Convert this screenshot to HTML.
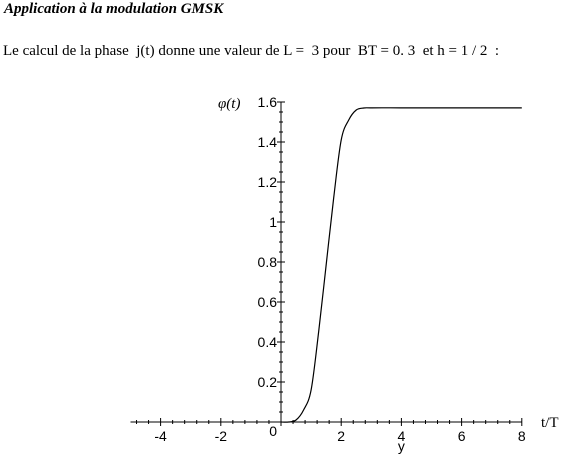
<!DOCTYPE html>
<html><head><meta charset="utf-8"><style>
body{margin:0;background:#fff;width:581px;height:470px;overflow:hidden;font-family:"Liberation Serif",serif}
#title{position:absolute;left:4px;top:1px;font-size:15px;font-weight:bold;font-style:italic}
#desc{position:absolute;left:3px;top:43px;font-size:15px;white-space:pre}
svg{position:absolute;left:0;top:0}
svg text{font-family:"Liberation Sans",sans-serif;font-size:14px;fill:#000}
</style></head><body>
<div id="title">Application à la modulation GMSK</div>
<div id="desc">Le calcul de la phase  j(t) donne une valeur de L =  3 pour  BT = 0. 3  et h = 1 / 2  :</div>
<svg id="chart" width="581" height="470"></svg>
<script>
const tVals=[0,0.25,0.5,0.75,1,1.25,1.5,1.75,2,2.25,2.5,2.75,3,4,5,6,7,8];
const phiVals=[0,0.0,0.01,0.06,0.16,0.45,0.785,1.12,1.41,1.51,1.56,1.57,1.5708,1.5708,1.5708,1.5708,1.5708,1.5708];
const xTickLabels=[-4,-2,0,2,4,6,8];
const yTickLabels=[0.2,0.4,0.6,0.8,1,1.2,1.4,1.6];
const NS="http://www.w3.org/2000/svg";
const svg=document.getElementById('chart');
const X=v=>281+v*30.1, Y=v=>422-v*200;
function el(t,a){const e=document.createElementNS(NS,t);for(const k in a)e.setAttribute(k,a[k]);svg.appendChild(e);return e;}
let e;
e=el('line',{x1:X(-5),y1:422,x2:X(8),y2:422,stroke:'#000'});


e=el('line',{x1:281,y1:422,x2:281,y2:Y(1.6),stroke:'#000'});


for(let i=-12;i<=20;i++){const v=i*0.4;const big=i%5==0;
 el('line',{x1:X(v),y1:422-(big?4:2),x2:X(v),y2:422+(big?4:2),stroke:'#000'});}
for(let i=1;i<=32;i++){const v=i*0.05;const big=i%4==0;
 el('line',{x1:281-(big?4:2),y1:Y(v),x2:281+(big?4:2),y2:Y(v),stroke:'#000'});}
xTickLabels.forEach(v=>{if(v===0)return;const t=el('text',{x:X(v),y:441,'text-anchor':'middle'});t.textContent=v;
 
 });
yTickLabels.forEach(v=>{const t=el('text',{x:277,y:Y(v)+5,'text-anchor':'end'});t.textContent=v;
 
 });
e=el('text',{x:277,y:436,'text-anchor':'end'});e.textContent='0';


e=el('text',{x:X(4),y:451,'text-anchor':'middle'});e.textContent='y';


e=el('text',{x:541,y:427,style:'font-family:Liberation Serif,serif;font-size:15px'});e.textContent='t/T';


e=el('text',{x:218,y:108,style:'font-family:Liberation Serif,serif;font-size:15px;font-style:italic'});e.textContent='φ(t)';


const P=tVals.map((t,i)=>[X(t),Y(phiVals[i])]);
let d='M'+P[0][0]+','+P[0][1];
for(let i=0;i<P.length-1;i++){const p0=P[i-1]||P[i],p1=P[i],p2=P[i+1],p3=P[i+2]||P[i+1];
 const c1=[p1[0]+(p2[0]-p0[0])/6,p1[1]+(p2[1]-p0[1])/6],c2=[p2[0]-(p3[0]-p1[0])/6,p2[1]-(p3[1]-p1[1])/6];
 d+='C'+c1.join(',')+' '+c2.join(',')+' '+p2.join(',');}
e=el('path',{d:d,fill:'none',stroke:'#000','stroke-width':1.2,'stroke-linejoin':'round'});


</script>
</body></html>
